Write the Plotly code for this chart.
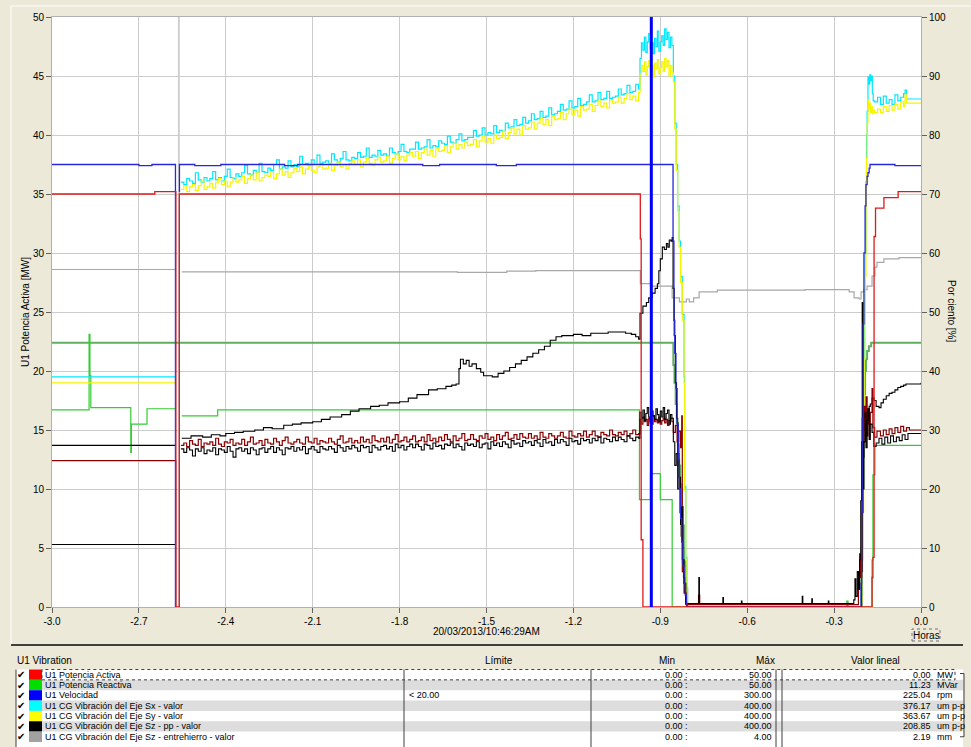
import plotly.graph_objects as go

# ---------------- axes / text ----------------
x_tick_vals = [-3.0, -2.7, -2.4, -2.1, -1.8, -1.5, -1.2, -0.9, -0.6, -0.3, 0.0]
x_tick_text = ["-3.0", "-2.7", "-2.4", "-2.1", "-1.8", "-1.5", "-1.2", "-0.9", "-0.6", "-0.3", "0.0"]
y_left_ticks = [0, 5, 10, 15, 20, 25, 30, 35, 40, 45, 50]
y_right_ticks = [0, 10, 20, 30, 40, 50, 60, 70, 80, 90, 100]
x_title = "20/03/2013/10:46:29AM"
x_unit = "Horas"
y_left_title = "U1 Potencia Activa [MW]"
y_right_title = "Por ciento [%]"
cursor_t = -0.931
marker_t = -2.562

# ---------------- sampling times (hours) ----------------
t_run = [round(-2.555 + 0.01 * k, 3) for k in range(159)]
t_hi = [round(-0.97 + 0.005 * k, 3) for k in range(23)]

# ---------------- Sx (cyan) ----------------
cyan_pre_t = [-3.0, -2.5735]
cyan_pre_v = [19.5, 19.5]
cyan_run = [36.0, 35.8, 36.3, 36.1, 35.9, 36.8, 36.2, 36.0, 36.4, 36.1,
            36.3, 36.9, 36.2, 36.4, 36.1, 36.5, 37.1, 36.4, 36.3, 36.7,
            36.5, 36.8, 37.4, 36.7, 36.6, 37.0, 36.8, 37.6, 36.9, 36.8,
            37.2, 37.0, 37.5, 37.9, 37.1, 37.3, 37.2, 37.8, 37.3, 37.5,
            37.3, 38.2, 37.5, 37.6, 37.4, 37.9, 37.5, 38.3, 37.6, 37.7,
            37.8, 37.6, 38.4, 37.9, 37.7, 38.0, 38.6, 37.9, 37.8, 38.1,
            38.0, 38.5, 38.1, 38.2, 38.9, 38.1, 38.3, 38.2, 38.7, 38.3,
            38.4, 38.2, 38.9, 38.5, 38.4, 38.6, 39.2, 38.6, 38.5, 38.8,
            38.8, 39.4, 38.8, 38.9, 39.0, 39.6, 38.9, 39.1, 39.0, 39.5,
            39.3, 39.2, 39.9, 39.4, 39.3, 39.6, 40.1, 39.5, 39.6, 39.8,
            39.8, 40.4, 39.9, 40.0, 40.6, 40.0, 40.2, 40.1, 40.8, 40.2,
            40.4, 40.3, 41.0, 40.6, 40.7, 41.3, 40.8, 40.9, 41.5, 41.0,
            41.2, 41.8, 41.3, 41.4, 42.0, 41.5, 41.6, 42.3, 41.7, 41.8,
            42.0, 42.6, 42.1, 42.2, 42.9, 42.3, 42.4, 43.1, 42.5, 42.6,
            42.8, 43.4, 42.8, 42.9, 43.6, 43.0, 43.1, 43.7, 43.1, 43.2,
            43.3, 43.9, 43.4, 43.5, 44.2, 43.6, 43.7, 44.3, 43.9]
cyan_hi = [46.5, 47.8, 47.2, 48.3, 47.0, 47.9, 48.6, 47.3, 47.8, 46.9, 48.2, 47.5,
           48.8, 47.1, 47.9, 48.4, 47.6, 49.0, 48.1, 48.7, 47.4, 48.3, 47.6]
cyan_drop_t = [-0.855, -0.85, -0.845, -0.84, -0.835, -0.83, -0.824, -0.818, -0.816, -0.812, -0.808, -0.21]
cyan_drop_v = [45.0, 41.0, 37.5, 34.0, 31.0, 28.0, 24.8, 19.5, 10.2, 4.2, 0.0, 0.0]
end_t = [-0.207, -0.204, -0.201, -0.198, -0.196, -0.193, -0.19, -0.188, -0.186, -0.183,
         -0.18, -0.177, -0.174, -0.171, -0.168, -0.165, -0.16, -0.15, -0.14, -0.13,
         -0.12, -0.11, -0.10, -0.09, -0.08, -0.07, -0.06, -0.055, -0.05, 0.0]
cyan_end_v = [1.0, 4.0, 10.0, 18.0, 24.0, 30.0, 36.0, 40.0, 42.0, 44.9,
              44.3, 45.1, 44.6, 45.0, 43.5, 42.9, 42.8, 43.2, 42.6, 43.3,
              42.7, 43.0, 42.6, 43.4, 42.9, 43.2, 43.5, 43.8, 43.05, 43.05]

# ---------------- Sy (yellow) ----------------
yellow_pre_v = [19.0, 19.0]
yellow_run = [35.4, 35.7, 35.2, 35.6, 35.8, 35.3, 35.7, 36.1, 35.4, 35.6,
              35.9, 35.5, 36.0, 36.3, 35.8, 36.1, 35.6, 36.0, 36.4, 36.0,
              36.2, 36.5, 35.9, 36.3, 36.6, 36.2, 36.8, 36.1, 36.4, 36.6,
              36.5, 36.9, 36.3, 36.7, 37.1, 36.6, 36.9, 36.4, 36.8, 37.2,
              36.9, 37.3, 36.7, 37.1, 37.4, 37.0, 36.8, 37.3, 37.5, 37.1,
              37.2, 37.6, 37.0, 37.4, 37.7, 37.3, 37.5, 37.1, 37.6, 37.8,
              37.5, 37.9, 37.3, 37.7, 38.0, 37.6, 37.4, 37.9, 38.1, 37.7,
              37.8, 38.2, 37.6, 38.0, 38.4, 37.9, 38.2, 37.8, 38.3, 38.5,
              38.2, 38.6, 38.0, 38.5, 38.8, 38.3, 38.7, 38.2, 38.9, 38.6,
              38.7, 39.1, 38.5, 39.0, 39.3, 38.8, 39.2, 38.9, 39.4, 39.1,
              39.2, 39.6, 39.0, 39.5, 39.9, 39.4, 39.7, 39.3, 40.0, 39.7,
              39.8, 40.3, 39.7, 40.2, 40.6, 40.1, 40.5, 40.0, 40.8, 40.5,
              40.6, 41.1, 40.5, 41.0, 41.4, 40.9, 41.3, 40.8, 41.6, 41.3,
              41.4, 41.9, 41.3, 41.8, 42.2, 41.7, 42.1, 41.6, 42.4, 42.1,
              42.2, 42.6, 42.0, 42.5, 42.9, 42.4, 42.7, 42.3, 43.0, 42.7,
              42.8, 43.2, 42.7, 43.1, 43.5, 43.0, 43.3, 42.9, 43.6]
yellow_hi = [45.2, 45.9, 45.4, 46.2, 45.1, 45.8, 46.3, 45.5, 45.9, 44.9, 46.1, 45.6,
             46.4, 45.2, 45.7, 46.2, 45.4, 46.5, 45.8, 46.3, 45.0, 45.9, 45.3]
yellow_drop_t = [-0.855, -0.85, -0.845, -0.84, -0.835, -0.83, -0.824, -0.818, -0.816, -0.812, -0.808, -0.21]
yellow_drop_v = [44.5, 40.5, 37.0, 33.5, 30.5, 27.5, 24.3, 19.0, 9.9, 4.0, 0.0, 0.0]
yellow_end_v = [0.5, 3.0, 8.0, 15.0, 21.0, 28.0, 34.0, 38.0, 41.0, 43.0,
                42.2, 42.7, 41.9, 42.4, 41.8, 42.1, 41.9, 42.2, 41.9, 42.4,
                42.0, 42.5, 42.1, 42.6, 42.2, 42.8, 42.4, 43.4, 42.7, 42.7]

# ---------------- dark red series ----------------
maroon_pre_t = [-3.0, -2.573, -2.573]
maroon_pre_v = [12.4, 12.4, 0.0]
maroon_run = [13.7, 13.9, 13.6, 14.1, 13.8, 13.7, 14.2, 13.6, 13.9, 13.8,
              14.0, 13.7, 14.3, 13.8, 13.6, 14.0, 13.9, 14.2, 13.7, 13.9,
              13.8, 14.2, 13.7, 14.0, 14.4, 13.8, 13.9, 14.1, 13.7, 14.2,
              13.9, 13.8, 14.3, 14.0, 13.7, 14.1, 14.4, 13.9, 13.8, 14.0,
              14.2, 13.9, 13.8, 14.4, 14.0, 13.9, 14.3, 13.8, 14.1, 14.0,
              13.9, 14.3, 14.0, 13.8, 14.2, 14.5, 13.9, 14.0, 14.3, 13.9,
              14.1, 13.9, 14.4, 14.0, 14.2, 13.9, 14.5, 14.1, 14.0, 14.3,
              14.0, 14.4, 13.9, 14.2, 14.6, 14.0, 14.1, 14.4, 14.0, 14.2,
              14.5, 14.0, 14.1, 14.4, 14.0, 14.6, 14.1, 14.3, 14.0, 14.4,
              14.1, 14.6, 14.2, 14.0, 14.5, 14.1, 14.3, 14.7, 14.1, 14.2,
              14.6, 14.2, 14.1, 14.5, 14.3, 14.7, 14.2, 14.4, 14.1, 14.6,
              14.2, 14.5, 14.8, 14.2, 14.3, 14.6, 14.2, 14.7, 14.4, 14.3,
              14.7, 14.3, 14.5, 14.2, 14.8, 14.4, 14.3, 14.7, 14.5, 14.3,
              14.5, 14.8, 14.4, 14.3, 14.9, 14.5, 14.4, 14.7, 14.5, 14.9,
              14.4, 14.6, 14.9, 14.5, 14.4, 14.8, 14.6, 14.5, 15.0, 14.6,
              14.5, 14.8, 14.6, 14.9, 14.5, 14.7, 15.0, 14.6, 14.7]
maroon_hi = [15.9, 15.5, 16.1, 15.7, 15.9, 15.4, 16.0, 15.8, 15.5, 16.2, 15.7, 15.9,
             15.6, 16.1, 15.5, 15.8, 16.0, 15.6, 15.9, 15.4, 15.8, 16.0, 15.7]
maroon_drop_t = [-0.855, -0.848, -0.842, -0.836, -0.83, -0.826, -0.824, -0.818, -0.812, -0.768, -0.764,
                 -0.22, -0.216, -0.212, -0.208, -0.205, -0.2]
maroon_drop_v = [14.8, 15.4, 14.0, 14.9, 13.5, 16.2, 3.0, 1.2, 0.2, 1.0, 0.2,
                 0.2, 1.5, 4.5, 2.5, 8.0, 14.0]
maroon_end_t = [-0.197, -0.193, -0.19, -0.186, -0.183, -0.179, -0.175, -0.169, -0.166, -0.16,
                -0.152, -0.14, -0.13, -0.12, -0.11, -0.10, -0.09, -0.08, -0.07, -0.06,
                -0.05, -0.04, 0.0]
maroon_end_v = [17.0, 15.0, 17.8, 14.5, 16.8, 15.5, 16.5, 18.5, 15.2, 14.4,
                14.9, 14.5, 15.0, 14.6, 15.1, 14.7, 15.2, 14.8, 15.3, 14.9,
                15.2, 15.0, 15.0]

# ---------------- noisy black series ----------------
black2_pre_t = [-3.0, -2.5735]
black2_pre_v = [5.3, 5.3]
black2_run = [13.4, 13.1, 13.5, 13.3, 12.8, 13.4, 13.2, 13.5, 13.0, 13.3,
              13.2, 13.5, 12.9, 13.4, 13.3, 13.1, 13.6, 13.2, 12.7, 13.4,
              13.5, 13.2, 13.4, 13.0, 13.5, 13.3, 12.9, 13.4, 13.5, 13.1,
              13.4, 13.6, 13.1, 13.5, 13.3, 12.9, 13.5, 13.4, 13.6, 13.2,
              13.5, 13.3, 13.6, 13.0, 13.4, 13.6, 13.3, 13.1, 13.6, 13.4,
              13.3, 13.6, 13.4, 13.1, 13.7, 13.5, 13.2, 13.6, 13.4, 13.7,
              13.5, 13.2, 13.7, 13.5, 13.6, 13.1, 13.7, 13.5, 13.3, 13.6,
              13.7, 13.4, 13.6, 13.2, 13.8, 13.5, 13.7, 13.3, 13.6, 13.8,
              13.5, 13.8, 13.6, 13.3, 13.8, 13.7, 13.4, 13.9, 13.6, 13.7,
              13.4, 13.8, 13.7, 13.9, 13.5, 13.8, 13.6, 13.3, 13.9, 13.7,
              13.8, 13.6, 14.0, 13.5, 13.8, 13.9, 13.4, 14.0, 13.7, 13.9,
              13.6, 14.0, 13.8, 13.5, 14.1, 13.8, 13.9, 13.6, 14.1, 13.9,
              14.0, 13.7, 14.1, 13.9, 13.6, 14.2, 13.9, 14.0, 13.7, 14.2,
              13.9, 14.2, 14.0, 13.7, 14.3, 14.0, 14.1, 13.8, 14.3, 14.1,
              14.2, 13.9, 14.3, 14.1, 14.4, 13.9, 14.3, 14.2, 14.0, 14.4,
              14.1, 14.4, 14.2, 14.0, 14.5, 14.3, 14.1, 14.4, 14.3]
black2_hi = [16.5, 16.0, 16.7, 15.8, 16.4, 16.9, 16.1, 15.6, 16.6, 16.2, 15.9, 16.8,
             16.3, 15.7, 16.6, 16.1, 16.9, 15.9, 16.4, 16.7, 15.5, 16.3, 16.0]
black2_drop_t = [-0.855, -0.85, -0.845, -0.84, -0.835, -0.83, -0.826, -0.822, -0.818, -0.812,
                 -0.767, -0.765, -0.684, -0.682, -0.62, -0.618, -0.41, -0.408, -0.377, -0.375,
                 -0.32, -0.318, -0.232, -0.228, -0.225, -0.22, -0.216, -0.212, -0.208, -0.205, -0.2]
black2_drop_v = [14.0, 12.0, 13.0, 10.0, 11.0, 7.0, 8.5, 4.0, 2.0, 0.3,
                 2.5, 0.3, 0.8, 0.3, 0.5, 0.3, 0.9, 0.3, 0.7, 0.3,
                 0.5, 0.3, 0.6, 2.4, 0.9, 3.0, 1.5, 4.0, 9.0, 14.0, 10.0]
black2_end_t = [-0.197, -0.193, -0.19, -0.186, -0.183, -0.179, -0.175, -0.169, -0.163, -0.155,
                -0.145, -0.135, -0.125, -0.115, -0.105, -0.095, -0.085, -0.075, -0.065, -0.055,
                -0.045, 0.0]
black2_end_v = [14.0, 16.5, 13.5, 15.8, 16.8, 14.2, 15.5, 14.8, 13.6, 13.9,
                14.3, 13.8, 14.4, 13.9, 14.5, 14.0, 14.4, 14.1, 14.6, 14.2,
                14.7, 14.7]

# ---------------- Sz pp (black, smooth) ----------------
black1_pre_t = [-3.0, -2.5735]
black1_pre_v = [13.7, 13.7]
black1_t = [-2.552, -2.52, -2.48, -2.45, -2.42, -2.40, -2.37, -2.34, -2.30, -2.27,
            -2.24, -2.20, -2.17, -2.14, -2.10, -2.07, -2.04, -2.00, -1.97, -1.94,
            -1.90, -1.87, -1.84, -1.80, -1.77, -1.74, -1.70, -1.67, -1.64, -1.62,
            -1.605, -1.595, -1.59, -1.58, -1.57, -1.56, -1.55, -1.535, -1.52, -1.51,
            -1.50, -1.48, -1.46, -1.44, -1.42, -1.40, -1.38, -1.36, -1.34, -1.32,
            -1.30, -1.28, -1.26, -1.24, -1.22, -1.20, -1.17, -1.14, -1.11, -1.08,
            -1.05, -1.02, -1.00, -0.985, -0.975, -0.97, -0.96, -0.948, -0.94, -0.928,
            -0.918, -0.91, -0.905, -0.9, -0.893, -0.886, -0.879, -0.874, -0.869, -0.863,
            -0.859, -0.856, -0.852, -0.848, -0.844, -0.84, -0.836, -0.832, -0.828, -0.824,
            -0.82, -0.816, -0.812, -0.808, -0.21, -0.205, -0.203, -0.2, -0.197, -0.193,
            -0.19, -0.186, -0.183, -0.179, -0.175, -0.169, -0.162, -0.155, -0.145, -0.138,
            -0.13, -0.12, -0.11, -0.10, -0.09, -0.08, -0.07, -0.06, -0.052, 0.0]
black1_v = [14.3, 14.5, 14.4, 14.6, 14.5, 14.7, 14.8, 14.9, 15.0, 15.2,
            15.1, 15.4, 15.5, 15.6, 15.7, 15.9, 16.1, 16.3, 16.6, 16.8,
            17.0, 17.1, 17.3, 17.4, 17.7, 18.0, 18.4, 18.5, 18.7, 18.8,
            18.9, 20.2, 21.0, 20.6, 20.9, 20.4, 20.6, 20.2, 19.9, 19.6,
            19.6, 19.5, 19.8, 20.0, 20.3, 20.6, 20.9, 21.2, 21.5, 21.8,
            22.1, 22.6, 22.9, 23.0, 23.0, 23.1, 23.0, 23.2, 23.2, 23.3,
            23.3, 23.2, 23.1, 22.9, 22.7, 24.9, 25.5, 25.8, 26.2, 26.6,
            27.0, 27.4, 28.5, 29.5, 30.5, 30.3, 30.8, 30.5, 31.1, 31.0,
            31.3, 27.0, 23.0, 19.0, 16.0, 13.0, 11.0, 8.0, 6.0, 4.0,
            2.5, 1.2, 0.3, 0.0, 0.0, 3.0, 25.8, 12.7, 14.0, 15.5,
            14.8, 16.0, 16.5, 17.0, 17.2, 17.7, 17.5, 17.0, 16.9, 17.3,
            17.6, 17.9, 18.1, 18.2, 18.4, 18.6, 18.7, 18.8, 18.9, 19.0]

# ---------------- Sz entrehierro (gray) ----------------
gray_pre_t = [-3.0, -2.5735]
gray_pre_v = [28.6, 28.6]
gray_t = [-2.552, -1.6, -1.43, -1.33, -0.969, -0.934, -0.859, -0.834, -0.81, -0.8,
          -0.785, -0.766, -0.703, -0.40, -0.248, -0.231, -0.214, -0.207, -0.197, -0.186,
          -0.169, -0.159, -0.152, -0.128, -0.076, 0.0]
gray_v = [28.4, 28.35, 28.47, 28.5, 27.4, 27.2, 26.2, 25.85, 26.1, 25.85,
          26.2, 26.7, 26.85, 26.9, 26.7, 26.2, 26.1, 26.7, 26.9, 27.2,
          28.05, 28.8, 29.2, 29.5, 29.6, 29.6]

# ---------------- dark green series ----------------
dgreen_t = [-3.0, -0.859, -0.855, -0.851, -0.847, -0.843, -0.839, -0.835, -0.831, -0.827,
            -0.823, -0.819, -0.815, -0.811, -0.807, -0.207, -0.205, -0.203, -0.2, -0.197,
            -0.193, -0.19, -0.186, -0.18, -0.172, 0.0]
dgreen_v = [22.4, 22.4, 20.5, 19.0, 17.2, 15.6, 13.8, 12.0, 10.4, 8.5,
            6.9, 5.0, 3.5, 1.6, 0.0, 0.0, 5.0, 10.5, 15.0, 18.0,
            20.0, 21.0, 21.7, 22.1, 22.4, 22.4]

# ---------------- Potencia Reactiva (green) ----------------
green_pre_t = [-3.0, -2.872, -2.869, -2.866, -2.728, -2.726, -2.672, -2.5735]
green_pre_v = [16.7, 23.1, 19.6, 16.9, 13.1, 15.5, 16.8, 16.8]
green_t = [-2.552, -2.428, -0.972, -0.934, -0.9, -0.859, -0.256, -0.252, -0.169, -0.166, -0.159, 0.0]
green_v = [16.2, 16.7, 9.1, 11.3, 9.1, 0.0, 0.5, 0.0, 4.0, 11.2, 13.7, 13.7]

# ---------------- Potencia Activa (red) ----------------
red_t = [-3.0, -2.645, -2.5725, -2.5725, -2.5605, -0.969, -0.969, -0.966, -0.96,
         -0.169, -0.166, -0.162, -0.157, -0.128, -0.079, 0.0]
red_v = [35.0, 35.2, 35.2, 0.0, 35.0, 35.0, 31.2, 5.7, 0.0,
         2.5, 4.2, 31.4, 33.8, 34.7, 35.2, 35.2]

# ---------------- Velocidad (blue) ----------------
blue_pre_t = [-3.0, -2.7, -2.655, -2.5738, -2.5738]
blue_pre_v = [37.5, 37.4, 37.5, 37.5, 0.0]
blue_t = [-2.5605, -2.56, -2.507, -2.417, -2.197, -2.152, -1.72, -1.662, -1.466, -1.397,
          -0.859, -0.856, -0.853, -0.85, -0.846, -0.842, -0.838, -0.834, -0.83, -0.826,
          -0.822, -0.818, -0.814, -0.81, -0.807, -0.21, -0.207, -0.205, -0.203, -0.2,
          -0.197, -0.193, -0.19, -0.186, -0.183, -0.179, -0.176, -0.09, 0.0]
blue_v = [35.2, 37.5, 37.4, 37.5, 37.4, 37.5, 37.4, 37.5, 37.4, 37.5,
          37.5, 31.0, 24.3, 21.5, 18.5, 15.5, 12.5, 10.0, 7.5, 5.5,
          3.5, 2.0, 1.0, 0.3, 0.0, 0.0, 2.0, 8.0, 16.0, 24.0,
          30.0, 34.0, 35.8, 36.5, 36.8, 37.2, 37.5, 37.4, 37.4]

# ---------------- table below the chart ----------------
table_title = "U1 Vibration"
table_headers = ["Límite", "Min", "Máx", "Valor lineal"]
table_names = ["U1 Potencia Activa", "U1 Potencia Reactiva", "U1 Velocidad",
               "U1 CG Vibración del Eje Sx - valor", "U1 CG Vibración del Eje Sy - valor",
               "U1 CG Vibración del Eje Sz - pp - valor",
               "U1 CG Vibración del Eje Sz - entrehierro - valor"]
table_colors = ["#FF0000", "#00DD00", "#0000FF", "#00FFFF", "#FFFF00", "#000000", "#A0A0A0"]
table_limits = ["", "", "< 20.00", "", "", "", ""]
table_min = ["0.00 :"] * 7
table_max = ["50.00", "50.00", "300.00", "400.00", "400.00", "400.00", "4.00"]
table_values = ["0.00", "11.23", "225.04", "376.17", "363.67", "208.85", "2.19"]
table_units = ["MW", "MVar", "rpm", "um p-p", "um p-p", "um p-p", "mm"]


def build(*groups):
    xs, ys = [], []
    for gi, group in enumerate(groups):
        if gi > 0:
            xs.append(None)
            ys.append(None)
        for t, v in group:
            xs.extend(t)
            ys.extend(v)
    return xs, ys


series = [
    ("dgreen", "#5FAF5F", 2.0, build([(dgreen_t, dgreen_v)])),
    ("gray", "#A8A8A8", 1.2, build([(gray_pre_t, gray_pre_v)], [(gray_t, gray_v)])),
    ("green", "#33CC33", 1.2, build([(green_pre_t, green_pre_v)], [(green_t, green_v)])),
    ("cyan", "#00E8FF", 1.2, build([(cyan_pre_t, cyan_pre_v)],
                                    [(t_run, cyan_run), (t_hi, cyan_hi), (cyan_drop_t, cyan_drop_v),
                                     (end_t, cyan_end_v)])),
    ("yellow", "#F5F500", 1.2, build([(cyan_pre_t, yellow_pre_v)],
                                      [(t_run, yellow_run), (t_hi, yellow_hi), (yellow_drop_t, yellow_drop_v),
                                       (end_t, yellow_end_v)])),
    ("black1", "#000000", 1.1, build([(black1_pre_t, black1_pre_v)], [(black1_t, black1_v)])),
    ("maroon", "#8B0000", 1.2, build([(maroon_pre_t, maroon_pre_v)],
                                      [(t_run, maroon_run), (t_hi, maroon_hi), (maroon_drop_t, maroon_drop_v),
                                       (maroon_end_t, maroon_end_v)])),
    ("black2", "#000000", 1.1, build([(black2_pre_t, black2_pre_v)],
                                      [(t_run, black2_run), (t_hi, black2_hi), (black2_drop_t, black2_drop_v),
                                       (black2_end_t, black2_end_v)])),
    ("blue", "#2828D8", 1.3, build([(blue_pre_t, blue_pre_v)], [(blue_t, blue_v)])),
    ("red", "#E01818", 1.3, build([(red_t, red_v)])),
]

fig = go.Figure()
for name, color, width, (xs, ys) in series:
    fig.add_trace(go.Scatter(x=xs, y=ys, mode="lines", name=name,
                             line=dict(color=color, width=width, shape="hv"),
                             connectgaps=False, hoverinfo="skip", showlegend=False))

# invisible trace to realise the right (percent) axis
fig.add_trace(go.Scatter(x=[-3.0, 0.0], y=[0, 100], yaxis="y2", mode="lines",
                         line=dict(width=0, color="rgba(0,0,0,0)"), hoverinfo="skip", showlegend=False))

# cursors
fig.add_vline(x=marker_t, line=dict(color="#D0D0D0", width=2), layer="below")
fig.add_vline(x=cursor_t, line=dict(color="#0000FF", width=3))

FONT = "Liberation Sans, Arial, sans-serif"
W, H = 971, 747
ML, MR, MT, MB = 52, 50, 17, 140
PW, PH = W - ML - MR, H - MT - MB


def px(xp):
    return (xp - ML) / PW


def py(yp):
    return (H - MB - yp) / PH


annotations = []
shapes = []


def text(s, x, y, anchor="left", size=10, angle=0, color="black", family=FONT):
    annotations.append(dict(text=s, x=px(x), y=py(y), xref="paper", yref="paper",
                            xanchor=anchor, yanchor="middle", showarrow=False,
                            textangle=angle, font=dict(size=size, color=color, family=family)))


def rect(x0, y0, x1, y1, fill=None, line=None, lw=1, dash=None):
    shapes.append(dict(type="rect", xref="paper", yref="paper",
                       x0=px(x0), x1=px(x1), y0=py(y1), y1=py(y0),
                       fillcolor=fill if fill else "rgba(0,0,0,0)",
                       line=dict(color=line if line else "rgba(0,0,0,0)", width=lw if line else 0,
                                 dash=dash if dash else "solid"),
                       layer="above"))


def hline(x0, x1, y, color, lw=1, dash=None):
    shapes.append(dict(type="line", xref="paper", yref="paper", x0=px(x0), x1=px(x1),
                       y0=py(y), y1=py(y), line=dict(color=color, width=lw, dash=dash or "solid"),
                       layer="above"))


def vline(x, y0, y1, color, lw=1):
    shapes.append(dict(type="line", xref="paper", yref="paper", x0=px(x), x1=px(x),
                       y0=py(y0), y1=py(y1), line=dict(color=color, width=lw), layer="above"))


# outer control highlight
hline(11, 971, 6, "#FFFFFF", 1)
vline(11, 6, 645, "#FFFFFF", 1)

# axis titles
text(y_left_title, 25, 312, anchor="center", size=10, angle=-90)
text(y_right_title, 952, 311, anchor="center", size=10, angle=90)
text(x_title, 486, 632, anchor="center", size=10)
rect(912, 629, 940, 641, line="#707070", lw=1, dash="dot")
text(x_unit, 926, 635, anchor="center", size=10)

# bottom panel
hline(11, 963, 645, "#404040", 2)
text(table_title, 15, 660, size=10)
text(table_headers[0], 483, 660, size=10)
text(table_headers[1], 667, 660, anchor="center", size=10)
text(table_headers[2], 765, 660, anchor="center", size=10)
text(table_headers[3], 875, 660, anchor="center", size=10)

top = 669.5
rh = 10.35
TS = 9
rect(16, top, 963, 760, fill="#FFFFFF")
for i in range(7):
    y0 = top + i * rh
    yc = y0 + rh / 2
    if i % 2 == 1:
        rect(42, y0, 963, y0 + rh, fill="#DDDDDD")
    rect(29, y0, 42, y0 + rh, fill=table_colors[i])
    text("✔", 21, yc, anchor="center", size=10, family="DejaVu Sans")
    text(table_names[i], 43, yc, size=TS)
    if table_limits[i]:
        text(table_limits[i], 407, yc, size=TS)
    text(table_min[i], 690, yc, anchor="right", size=TS)
    text(table_max[i], 774, yc, anchor="right", size=TS)
    text(table_values[i], 933, yc, anchor="right", size=TS)
    text(table_units[i], 935, yc, size=TS)
vline(16, top, 747, "#404040", 1)
for cx in [404, 591, 776, 782]:
    vline(cx, top, 747, "#404040", 1)
rect(42, top, 955, top + rh, line="#404040", lw=1, dash="dot")
vline(964, top + 4, top + 6.5 * rh, "#404040", 1)
hline(960, 964, top + 4, "#404040", 1)
hline(960, 964, top + 6.5 * rh, "#404040", 1)

axis_common = dict(ticks="outside", ticklen=5, tickcolor="#606060", tickwidth=1,
                   tickfont=dict(size=10, color="black", family=FONT), zeroline=False)

fig.update_layout(
    width=W, height=H,
    margin=dict(l=ML, r=MR, t=MT, b=MB, pad=0),
    paper_bgcolor="#ECE9D8", plot_bgcolor="#FFFFFF",
    showlegend=False, hovermode=False,
    font=dict(family=FONT, size=10, color="black"),
    xaxis=dict(range=[-3.0, 0.0], tickmode="array", tickvals=x_tick_vals, ticktext=x_tick_text,
               showgrid=True, gridcolor="#CCCCCC", gridwidth=1,
               showline=True, linecolor="#B0B0B0", mirror=True, **axis_common),
    yaxis=dict(range=[0, 50], tickmode="array", tickvals=y_left_ticks,
               showgrid=True, gridcolor="#CCCCCC", gridwidth=1,
               showline=True, linecolor="#B0B0B0", mirror=True, **axis_common),
    yaxis2=dict(range=[0, 100], overlaying="y", side="right", tickmode="array",
                tickvals=y_right_ticks, showgrid=False, showline=False, **axis_common),
    annotations=annotations,
    shapes=list(fig.layout.shapes) + shapes,
)

fig.write_html("out.html", config={"displayModeBar": False})
